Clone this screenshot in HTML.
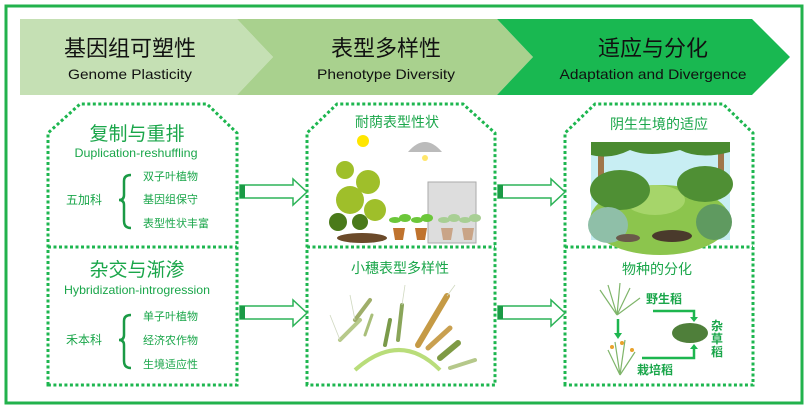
<!DOCTYPE html>
<html><head><meta charset="utf-8"><style>
html,body{margin:0;padding:0;background:#fff;}
svg{display:block;font-family:"Liberation Sans","Noto Sans CJK SC",sans-serif;}
</style></head><body>
<svg width="808" height="410" viewBox="0 0 808 410" xmlns="http://www.w3.org/2000/svg">
<rect x="6" y="6" width="796" height="397" fill="#fff" stroke="#22b24c" stroke-width="3"/>
<!-- chevrons -->
<polygon points="20,19 237,19 273,57 237,95 20,95" fill="#c5e0b4"/>
<polygon points="237,19 497,19 533,57 497,95 237,95 273,57" fill="#a9d18e"/>
<polygon points="497,19 752,19 790,57 752,95 497,95 533,57" fill="#19b851"/>
<g text-anchor="middle" fill="#111">
<text x="130" y="56" font-size="22">基因组可塑性</text>
<text x="130" y="79" font-size="14" textLength="124" lengthAdjust="spacingAndGlyphs">Genome Plasticity</text>
<text x="386" y="56" font-size="22">表型多样性</text>
<text x="386" y="79" font-size="14" textLength="138" lengthAdjust="spacingAndGlyphs">Phenotype Diversity</text>
<text x="653" y="56" font-size="22">适应与分化</text>
<text x="653" y="79" font-size="14" textLength="187" lengthAdjust="spacingAndGlyphs">Adaptation and Divergence</text>
</g>
<!-- boxes -->
<g fill="none" stroke="#1db64f" stroke-width="3" stroke-dasharray="3,2.5">
<path d="M48,385 V133 L80,104 H207 L237,133 V385 Z"/>
<line x1="48" y1="247" x2="237" y2="247"/>
<path d="M307,385 V133 L337,104 H463 L495,133 V385 Z"/>
<line x1="307" y1="247" x2="495" y2="247"/>
<path d="M565,385 V133 L595,104 H723 L753,133 V385 Z"/>
<line x1="565" y1="247" x2="753" y2="247"/>
</g>
<!-- arrows -->
<g fill="#fff" stroke="#2db358" stroke-width="1.5">
<polygon points="240,185 293,185 293,179 307,192 293,205 293,198 240,198"/>
<polygon points="240,306 293,306 293,300 307,313 293,326 293,319 240,319"/>
<polygon points="498,185 551,185 551,179 565,192 551,205 551,198 498,198"/>
<polygon points="498,306 551,306 551,300 565,313 551,326 551,319 498,319"/>
</g>
<g fill="#1a9a45">
<rect x="240" y="185" width="5" height="13"/><rect x="240" y="306" width="5" height="13"/>
<rect x="498" y="185" width="5" height="13"/><rect x="498" y="306" width="5" height="13"/>
</g>
<!-- left text -->
<g fill="#1aa64a">
<text x="137" y="140" font-size="19" text-anchor="middle">复制与重排</text>
<text x="136" y="157" font-size="12" text-anchor="middle" textLength="123" lengthAdjust="spacingAndGlyphs">Duplication-reshuffling</text>
<text x="66" y="204" font-size="12">五加科</text>
<text x="143" y="180" font-size="11">双子叶植物</text>
<text x="143" y="203" font-size="11">基因组保守</text>
<text x="143" y="227" font-size="11">表型性状丰富</text>
<text x="137" y="276" font-size="19" text-anchor="middle">杂交与渐渗</text>
<text x="137" y="294" font-size="12" text-anchor="middle" textLength="146" lengthAdjust="spacingAndGlyphs">Hybridization-introgression</text>
<text x="66" y="344" font-size="12">禾本科</text>
<text x="143" y="320" font-size="11">单子叶植物</text>
<text x="143" y="344" font-size="11">经济农作物</text>
<text x="143" y="368" font-size="11">生境适应性</text>
</g>
<g fill="none" stroke="#1a9a45" stroke-width="2.5">
<path d="M131,175 Q124,175 124,181 V195 Q124,200 119,200 Q124,200 124,205 V221 Q124,228 131,228"/>
<path d="M131,315 Q124,315 124,321 V335 Q124,340 119,340 Q124,340 124,345 V361 Q124,368 131,368"/>
</g>
<!-- middle -->
<g fill="#1aa64a" text-anchor="middle">
<text x="397" y="127" font-size="14">耐荫表型性状</text>
<text x="400" y="273" font-size="14">小穗表型多样性</text>
<text x="659" y="129" font-size="14">阴生生境的适应</text>
<text x="657" y="274" font-size="14">物种的分化</text>
</g>
<circle cx="363" cy="141" r="6" fill="#ffe600"/>
<path d="M408,152 Q425,132 442,152 Z" fill="#bbb"/>
<circle cx="425" cy="158" r="3" fill="#ffe66a"/>
<!-- plant -->
<ellipse cx="362" cy="238" rx="25" ry="5" fill="#6b4a2a"/>
<g fill="#9fbf2a"><circle cx="350" cy="200" r="14"/><circle cx="368" cy="182" r="12"/><circle cx="345" cy="170" r="9"/><circle cx="375" cy="210" r="11"/></g>
<g fill="#4a7a1a"><circle cx="338" cy="222" r="9"/><circle cx="360" cy="222" r="8"/></g>
<rect x="428" y="182" width="48" height="61" fill="#ddd" stroke="#aaa"/>
<g fill="#c0732e"><path d="M393,228 h12 l-2,12 h-8z"/><path d="M415,228 h12 l-2,12 h-8z"/></g>
<g fill="#c9a487"><path d="M441,228 h12 l-2,12 h-8z"/><path d="M462,228 h12 l-2,12 h-8z"/></g>
<g fill="#6cc73a"><ellipse cx="395" cy="220" rx="6" ry="3"/><ellipse cx="405" cy="218" rx="6" ry="4"/><ellipse cx="417" cy="220" rx="6" ry="3"/><ellipse cx="427" cy="218" rx="6" ry="4"/></g>
<g fill="#a8cf94"><ellipse cx="444" cy="220" rx="6" ry="3"/><ellipse cx="454" cy="218" rx="6" ry="4"/><ellipse cx="465" cy="220" rx="6" ry="3"/><ellipse cx="475" cy="218" rx="6" ry="4"/></g>
<!-- spikes -->
<path d="M355,370 Q400,330 440,370" fill="none" stroke="#b9dd7a" stroke-width="4"/>
<g stroke-width="4" stroke-linecap="round" fill="none">
<line x1="340" y1="340" x2="360" y2="320" stroke="#b7c98a"/>
<line x1="355" y1="320" x2="370" y2="300" stroke="#9fae6a"/>
<line x1="365" y1="335" x2="372" y2="315" stroke="#a9bf7a" stroke-width="3"/>
<line x1="385" y1="345" x2="390" y2="320" stroke="#7a9a4a"/>
<line x1="398" y1="340" x2="402" y2="305" stroke="#8aa55a"/>
<line x1="418" y1="345" x2="447" y2="296" stroke="#c59a45" stroke-width="6"/>
<line x1="428" y1="348" x2="450" y2="328" stroke="#c9a050" stroke-width="5"/>
<line x1="440" y1="358" x2="458" y2="343" stroke="#7f9a44" stroke-width="6"/>
<line x1="450" y1="368" x2="475" y2="360" stroke="#b5c88a"/>
</g>
<g stroke="#cfd8bf" stroke-width="0.8"><line x1="355" y1="320" x2="350" y2="295"/><line x1="402" y1="305" x2="405" y2="285"/><line x1="447" y1="296" x2="455" y2="285"/><line x1="340" y1="340" x2="330" y2="315"/></g>
<!-- forest -->
<rect x="591" y="142" width="139" height="98" fill="#c8eef3"/>
<ellipse cx="660" cy="220" rx="70" ry="35" fill="#8cc54d"/>
<ellipse cx="655" cy="200" rx="30" ry="15" fill="#a6d56a"/>
<rect x="598" y="150" width="6" height="50" fill="#a0764a"/>
<rect x="718" y="150" width="6" height="40" fill="#a0764a"/>
<ellipse cx="620" cy="190" rx="30" ry="20" fill="#4f8f34"/>
<ellipse cx="705" cy="184" rx="28" ry="18" fill="#4f8f34"/>
<path d="M591,142 H730 V152 Q700,160 680,150 Q650,158 630,150 Q610,160 591,155 Z" fill="#4a8a30"/>
<ellipse cx="608" cy="225" rx="20" ry="18" fill="#8fbfa8"/>
<ellipse cx="714" cy="222" rx="18" ry="18" fill="#5f9a60"/>
<ellipse cx="672" cy="236" rx="20" ry="6" fill="#4a3a2c"/>
<ellipse cx="628" cy="238" rx="12" ry="4" fill="#6a5a4a"/>
<!-- rice -->
<g stroke="#7fb56a" stroke-width="1.2" fill="none">
<path d="M617,315 L600,290 M617,315 L608,285 M617,315 L620,283 M617,315 L630,288 M617,315 L640,298"/>
<path d="M620,375 L608,350 M620,375 L615,342 M620,375 L625,340 M620,375 L635,352"/>
</g>
<g fill="#e9a22c"><circle cx="612" cy="347" r="2"/><circle cx="622" cy="343" r="2"/><circle cx="632" cy="350" r="2"/></g>
<g fill="#4f7f3a"><ellipse cx="690" cy="333" rx="18" ry="10"/></g>
<g fill="none" stroke="#1db64f" stroke-width="2.5">
<polyline points="653,311 694,311 694,318"/><polyline points="642,358 694,358 694,348"/>
<line x1="618" y1="319" x2="618" y2="334"/>
</g>
<g fill="#1db64f"><polygon points="690,317 698,317 694,322"/><polygon points="690,349 698,349 694,344"/><polygon points="614,333 622,333 618,339"/></g>
<g fill="#1aa64a" font-size="12" font-weight="bold">
<text x="646" y="303">野生稻</text>
<text x="637" y="374">栽培稻</text>
<text x="711" y="330" font-size="12">杂</text><text x="711" y="343">草</text><text x="711" y="356">稻</text>
</g>
</svg>
</body></html>
